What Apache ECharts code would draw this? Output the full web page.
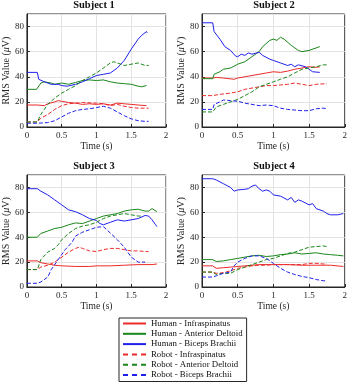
<!DOCTYPE html>
<html>
<head>
<meta charset="utf-8">
<script src="https://cdn.jsdelivr.net/npm/echarts@6/dist/echarts.min.js"></script>
<style>
  html, body { margin: 0; padding: 0; background: #fff; }
  #chart { width: 350px; height: 389px; }
</style>
</head>
<body>
<div id="chart"></div>
<script>
// RMS values per subject, [time (s), value (uV)]
const s1HumanInf = [[0,17.5],[0.15,17.5],[0.25,17],[0.3,18.5],[0.4,20],[0.45,21],[0.5,20.5],[0.6,19.5],[0.7,19],[0.8,18],[0.9,18.5],[1.0,18],[1.1,18.5],[1.2,17.5],[1.3,19],[1.4,18.5],[1.5,18],[1.6,17.5],[1.72,17]]
const s1HumanAD = [[0,30],[0.14,30],[0.2,35],[0.25,36],[0.35,35],[0.4,34],[0.5,35],[0.6,34],[0.7,35.5],[0.8,37],[0.9,37.5],[1.0,37],[1.1,37.5],[1.2,36],[1.3,35],[1.4,34.5],[1.5,34],[1.6,32.5],[1.65,32],[1.72,33]]
const s1HumanBB = [[0,43.5],[0.15,43.5],[0.17,38],[0.25,36],[0.35,34],[0.45,34],[0.5,33],[0.58,32.5],[0.7,34],[0.8,36],[0.9,38.5],[1.0,41],[1.1,42],[1.2,43],[1.3,47],[1.4,53],[1.5,62],[1.6,70],[1.65,73],[1.72,76],[1.73,75]]
const s1RobotInf = [[0,4],[0.15,4],[0.2,7],[0.3,10],[0.4,14],[0.5,17],[0.6,18.5],[0.8,19.5],[1.0,19],[1.1,18.5],[1.2,17],[1.3,18],[1.4,16.5],[1.5,15.5],[1.6,15],[1.75,15]]
const s1RobotAD = [[0,4],[0.15,4],[0.2,10],[0.25,14],[0.3,18],[0.4,23],[0.5,27],[0.6,30],[0.7,33],[0.8,37],[0.9,40],[1.0,43],[1.1,47],[1.2,51],[1.25,52],[1.3,51],[1.4,49],[1.5,50],[1.6,51],[1.7,49],[1.75,49]]
const s1RobotBB = [[0,3],[0.15,3],[0.3,3.5],[0.4,5],[0.5,8],[0.6,11],[0.7,13],[0.8,14],[0.9,14.5],[1.0,15.5],[1.1,16.5],[1.2,15],[1.3,12],[1.4,9],[1.5,6.5],[1.6,5],[1.7,4.5],[1.75,4.5]]

const s2HumanInf = [[0,39],[0.15,39],[0.2,39.5],[0.3,39],[0.45,38],[0.5,39],[0.6,40],[0.7,41],[0.8,42],[0.9,43],[1.0,44],[1.1,43.5],[1.2,44.5],[1.3,46],[1.4,47],[1.5,48],[1.6,47.5],[1.65,48]]
const s2HumanAD = [[0,38.5],[0.15,38.5],[0.17,42],[0.25,44],[0.3,46],[0.4,47],[0.5,50],[0.6,52],[0.7,56],[0.8,60],[0.85,64],[0.95,69],[1.0,70],[1.05,69],[1.1,71.5],[1.15,70],[1.25,65],[1.35,61],[1.4,60],[1.5,61],[1.6,63],[1.65,64]]
const s2HumanBB = [[0,83],[0.15,83],[0.17,76],[0.25,70],[0.32,64],[0.4,61],[0.47,56.5],[0.5,56],[0.55,58],[0.6,57],[0.65,59],[0.7,58],[0.8,59.5],[0.85,57],[0.95,54],[1.0,53],[1.1,51],[1.2,49],[1.25,50],[1.3,48],[1.35,49.5],[1.45,48],[1.5,46],[1.55,44],[1.65,43.5]]
const s2RobotInf = [[0,25],[0.15,25],[0.25,26],[0.4,27],[0.5,28],[0.6,30],[0.7,31],[0.8,32],[0.9,33],[1.0,33],[1.1,33.5],[1.2,34],[1.3,35],[1.4,34],[1.5,33],[1.6,34],[1.75,34.5]]
const s2RobotAD = [[0,12],[0.15,12],[0.2,16],[0.3,18],[0.4,20],[0.5,22],[0.6,25],[0.7,28],[0.8,32],[0.9,34],[1.0,36],[1.1,38],[1.2,40],[1.3,43],[1.4,46],[1.5,47],[1.6,48],[1.7,49.5],[1.75,49.5]]
const s2RobotBB = [[0,14],[0.15,14],[0.17,18],[0.25,20],[0.3,21.5],[0.4,21],[0.5,20.5],[0.6,19],[0.7,18],[0.8,17],[0.9,17.5],[1.0,17],[1.1,15],[1.2,14],[1.3,13.5],[1.4,13],[1.5,13],[1.6,14.5],[1.7,15],[1.75,14.5]]

const s3HumanInf = [[0,21],[0.15,21],[0.2,19.5],[0.3,18.5],[0.4,17.5],[0.5,17],[0.7,16.5],[0.9,16.5],[1.0,17],[1.2,17],[1.4,17.5],[1.6,18],[1.8,18],[1.87,18.5]]
const s3HumanAD = [[0,40],[0.15,40],[0.2,43],[0.3,45],[0.4,47],[0.5,48],[0.6,50],[0.7,51.5],[0.8,51],[0.9,53],[1.0,55],[1.1,57],[1.2,58],[1.3,59],[1.4,61],[1.5,62],[1.6,62.5],[1.7,61],[1.75,61],[1.8,63],[1.87,60.5]]
const s3HumanBB = [[0,79],[0.15,79],[0.2,77],[0.3,74],[0.4,70],[0.5,66],[0.6,62],[0.7,60.5],[0.8,58],[0.9,55],[1.0,53.5],[1.05,51],[1.1,50],[1.2,52],[1.3,54],[1.4,53],[1.5,54],[1.6,55],[1.7,57.5],[1.75,57],[1.8,54],[1.85,50],[1.87,48.5]]
const s3RobotInf = [[0,14],[0.15,14],[0.2,16],[0.3,17.5],[0.4,20],[0.5,24],[0.6,28],[0.7,31],[0.75,32],[0.8,31],[0.9,29],[1.0,28.5],[1.1,30],[1.2,31],[1.3,31],[1.4,30],[1.5,29],[1.6,29],[1.7,28.5],[1.75,28.5]]
const s3RobotAD = [[0,14],[0.15,14],[0.2,22],[0.3,28],[0.4,31],[0.45,34],[0.5,38],[0.6,43],[0.7,47],[0.8,49],[0.9,50],[1.0,52],[1.1,55],[1.2,57],[1.3,58],[1.4,59],[1.5,58],[1.6,57],[1.65,57]]
const s3RobotBB = [[0,3],[0.15,3],[0.2,4],[0.3,8],[0.35,14],[0.45,22],[0.55,30],[0.65,36],[0.7,41],[0.8,44],[0.9,46],[1.0,48],[1.1,48.5],[1.15,46],[1.3,38],[1.4,32],[1.5,24],[1.6,20],[1.7,20]]

const s4HumanInf = [[0,17],[0.15,17],[0.2,15],[0.3,15.5],[0.4,16],[0.5,16.5],[0.6,17],[0.7,17.5],[0.8,18],[1.0,18],[1.2,18],[1.4,17.5],[1.6,17.5],[1.8,17.5],[1.98,16.5]]
const s4HumanAD = [[0,22],[0.15,22],[0.2,20.5],[0.3,21],[0.4,22],[0.5,23],[0.6,24],[0.7,25],[0.8,25.5],[0.9,24.5],[1.0,25],[1.1,26],[1.2,26.5],[1.3,27.5],[1.4,26.5],[1.5,27],[1.6,27.5],[1.7,26.5],[1.8,26],[1.9,25.5],[1.98,25]]
const s4HumanBB = [[0,87],[0.15,87],[0.2,86],[0.3,83],[0.4,80],[0.45,77],[0.5,78],[0.6,78.5],[0.65,79],[0.7,81],[0.75,82],[0.8,79],[0.85,77],[0.9,78],[0.95,77],[1.0,74],[1.1,73],[1.2,70],[1.25,72],[1.3,68],[1.35,70],[1.4,69],[1.5,66],[1.55,67],[1.6,63],[1.7,61],[1.75,59],[1.8,58],[1.9,58],[1.98,59]]
const s4RobotInf = [[0,12],[0.15,12],[0.2,11],[0.3,11.5],[0.4,13],[0.5,15],[0.6,16],[0.7,17],[0.8,17.5],[0.9,17.5],[1.0,18],[1.2,18],[1.4,18],[1.5,19],[1.6,19],[1.7,18.5],[1.75,18.5]]
const s4RobotAD = [[0,12],[0.15,12],[0.2,10],[0.3,11],[0.4,11],[0.5,14],[0.6,16],[0.7,18],[0.8,20],[0.9,22],[1.0,23],[1.1,25],[1.2,27],[1.3,28],[1.4,30],[1.5,32],[1.6,32.5],[1.7,33],[1.75,32.5]]
const s4RobotBB = [[0,8],[0.15,8],[0.2,9],[0.3,11],[0.4,12],[0.45,17],[0.5,20],[0.6,23],[0.7,25],[0.8,25],[0.9,23],[1.0,19],[1.1,15],[1.2,12],[1.3,10],[1.4,8.5],[1.5,7.5],[1.6,6],[1.7,5],[1.75,5]]

const subjects = ['Subject 1', 'Subject 2', 'Subject 3', 'Subject 4']
const seriesNames = [
  'Human - Infraspinatus', 'Human - Anterior Deltoid', 'Human - Biceps Brachii',
  'Robot - Infraspinatus', 'Robot - Anterior Deltoid', 'Robot - Biceps Brachii'
]
const subjectData = [
  [s1HumanInf, s1HumanAD, s1HumanBB, s1RobotInf, s1RobotAD, s1RobotBB],
  [s2HumanInf, s2HumanAD, s2HumanBB, s2RobotInf, s2RobotAD, s2RobotBB],
  [s3HumanInf, s3HumanAD, s3HumanBB, s3RobotInf, s3RobotAD, s3RobotBB],
  [s4HumanInf, s4HumanAD, s4HumanBB, s4RobotInf, s4RobotAD, s4RobotBB]
]
const xTicks = [0, 0.5, 1, 1.5, 2]
const yTicks = [0, 20, 40, 60, 80]

const colors = ['#ec2a2a', '#1a861a', '#2020ec']
const font = 'Liberation Serif'
const ink = '#262626'

const grids = [
  { left: 22, top: 14, width: 144, height: 113 },
  { left: 202, top: 14, width: 144, height: 113 },
  { left: 22, top: 175, width: 144, height: 112 },
  { left: 202, top: 175, width: 144, height: 112 }
]

const titles = grids.map((g, i) => ({
  text: subjects[i],
  left: g.left + g.width / 2,
  top: i < 2 ? 0 : 161,
  textAlign: 'center',
  padding: 0,
  textStyle: { fontFamily: font, fontSize: 10.5, fontWeight: 'bold', color: '#111' }
}))

const xAxes = grids.map((g, i) => ({
  type: 'value',
  gridIndex: i,
  min: xTicks[0],
  max: xTicks[xTicks.length - 1],
  interval: 0.5,
  name: 'Time (s)',
  nameLocation: 'middle',
  nameGap: 14,
  nameTextStyle: { fontFamily: font, fontSize: 9.5, color: ink },
  axisLine: { show: true, lineStyle: { color: ink, width: 1 } },
  axisTick: { show: true, inside: true, length: 3, lineStyle: { color: ink } },
  axisLabel: { margin: 4, fontFamily: font, fontSize: 9, color: ink },
  splitLine: { show: true, lineStyle: { color: '#e3e3e3', width: 1 } }
}))

const yAxes = grids.map((g, i) => ({
  type: 'value',
  gridIndex: i,
  min: 0,
  max: 90,
  interval: yTicks[1] - yTicks[0],
  name: 'RMS Value ({i|μ}V)',
  nameLocation: 'middle',
  nameGap: 10,
  nameTextStyle: {
    fontFamily: font, fontSize: 10, color: ink,
    rich: { i: { fontFamily: font, fontSize: 10, fontStyle: 'italic', color: ink } }
  },
  axisLine: { show: true, lineStyle: { color: ink, width: 1 } },
  axisTick: { show: true, inside: true, length: 3, lineStyle: { color: ink } },
  axisLabel: { margin: 3, fontFamily: font, fontSize: 9, color: ink, showMaxLabel: false },
  splitLine: { show: true, lineStyle: { color: '#e3e3e3', width: 1 } }
}))

const series = []
subjectData.forEach((lines, gi) => {
  lines.forEach((data, k) => {
    series.push({
      name: seriesNames[k],
      type: 'line',
      xAxisIndex: gi,
      yAxisIndex: gi,
      data: data,
      symbol: 'none',
      silent: true,
      lineStyle: {
        color: colors[k % 3],
        width: 1,
        type: k < 3 ? 'solid' : [4, 2]
      },
      itemStyle: { color: colors[k % 3] }
    })
  })
})

// legend entries: robot samples get the longer dash seen in the box
const legendData = seriesNames.map((name, k) => (
  k < 3 ? { name } : { name, lineStyle: { type: [5, 4] } }
))

const chart = echarts.init(document.getElementById('chart'), null, { renderer: 'canvas' })
chart.setOption({
  animation: false,
  backgroundColor: '#fff',
  title: titles,
  grid: grids.map(g => Object.assign({ show: true, borderColor: ink, borderWidth: 1 }, g)),
  xAxis: xAxes,
  yAxis: yAxes,
  legend: {
    data: legendData,
    orient: 'vertical',
    left: 119,
    top: 318,
    itemWidth: 23,
    itemHeight: 10,
    itemGap: 1.3,
    padding: [1, 4, 2, 3],
    borderColor: ink,
    borderWidth: 1,
    backgroundColor: '#fff',
    selectedMode: false,
    itemStyle: { opacity: 0 },
    textStyle: { fontFamily: font, fontSize: 8.8, color: '#111' }
  },
  series: series
})
</script>
</body>
</html>
